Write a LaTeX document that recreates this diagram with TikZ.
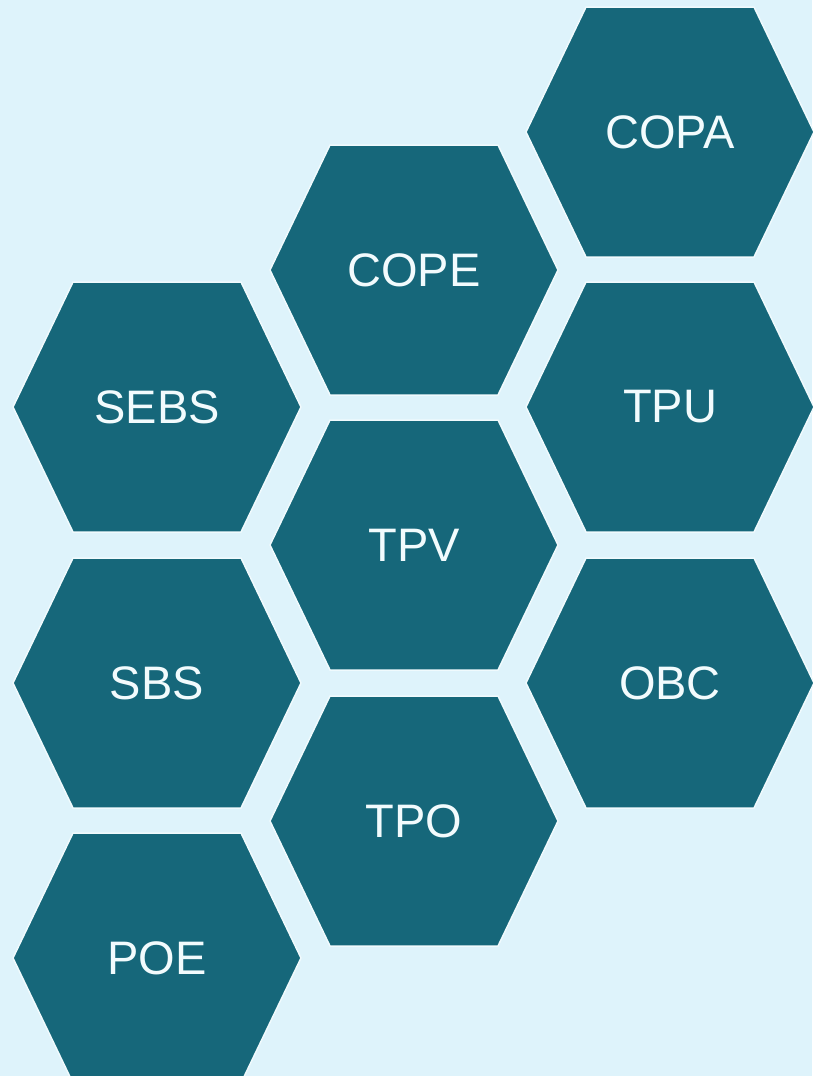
\documentclass[tikz,border=0pt]{standalone}
\usepackage{fontspec}
\setmainfont{Liberation Sans}
\definecolor{bgblue}{RGB}{222,243,251}
\definecolor{hexteal}{RGB}{22,103,122}
\definecolor{hexedge}{RGB}{240,250,253}
\definecolor{labelwhite}{RGB}{242,251,253}
\begin{document}
\begin{tikzpicture}[x=1pt,y=-1pt,
  hexcell/.style={fill=hexteal,draw=hexedge,line width=1.5pt,line join=miter},
  hexlabel/.style={text=labelwhite,font=\fontsize{47}{50}\selectfont,inner sep=0pt}]
  % page and background
  \useasboundingbox (0,0) rectangle (812,1076);
  \fill[bgblue] (0,0) rectangle (812,1076);
  % honeycomb: name / centre x / centre y / label
  \foreach \nm/\cx/\cy/\lbl in {
      copa/670/132/COPA, cope/414/270/COPE, sebs/157/407/SEBS,
      tpu/670/407/TPU, tpv/414/545/TPV, sbs/157/683/SBS,
      obc/670/683/OBC, tpo/414/821/TPO, poe/157/958/POE}{
    \draw[hexcell] (\cx-144,\cy) -- (\cx-84,\cy-125) -- (\cx+84,\cy-125)
      -- (\cx+144,\cy) -- (\cx+84,\cy+125) -- (\cx-84,\cy+125) -- cycle;
    \node[hexlabel] (\nm) at (\cx,\cy) {\lbl};
  }
\end{tikzpicture}
\end{document}
